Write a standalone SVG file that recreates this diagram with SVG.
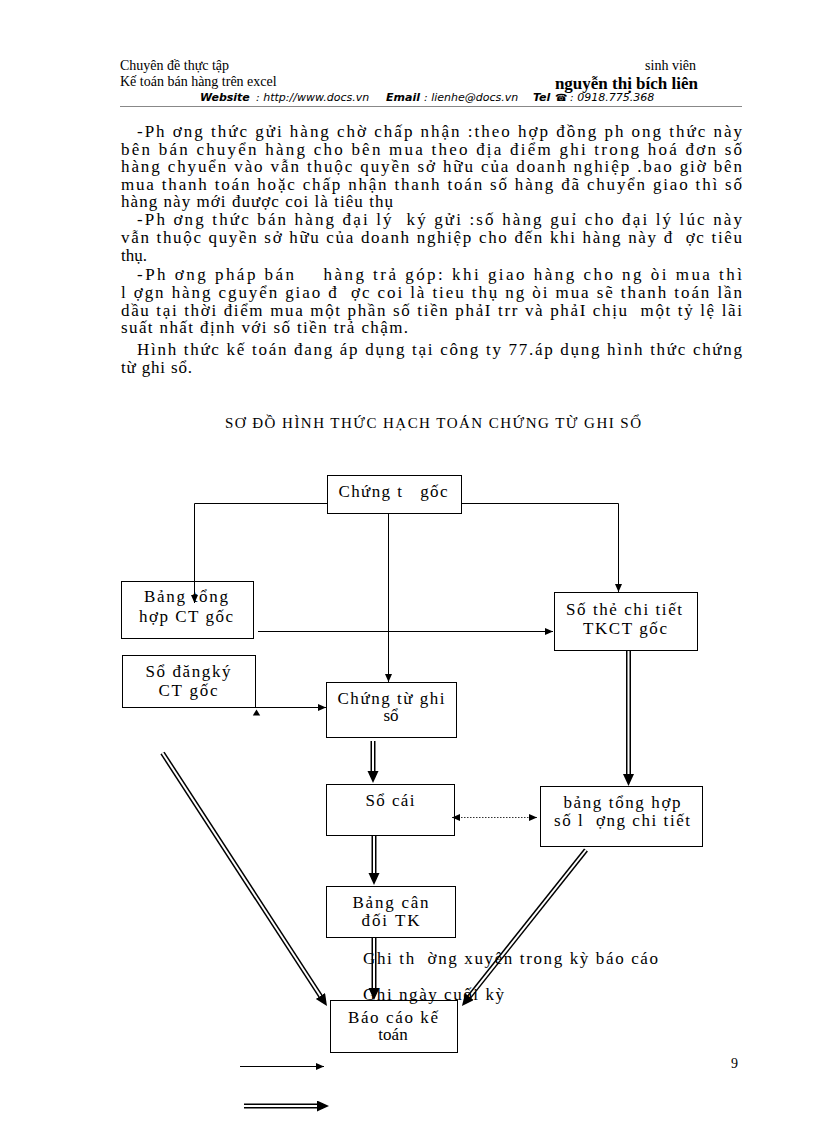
<svg xmlns="http://www.w3.org/2000/svg" width="816" height="1123" viewBox="0 0 816 1123">
<style>
text{font-family:"Liberation Serif","Times New Roman",serif;fill:#000;white-space:pre}
.hd{font-size:14px}
.web{font-family:"DejaVu Sans","Verdana",sans-serif;font-size:11px;font-style:italic}
.webb{font-family:"DejaVu Sans","Verdana",sans-serif;font-size:11px;font-style:italic;font-weight:bold}
.body{font-size:17px}
.ttl{font-size:15px}
.nt{font-size:17px;text-anchor:middle}
.lg{font-size:17px}
.box{fill:#fff;stroke:#000;stroke-width:1}
.thin{fill:none;stroke:#000;stroke-width:1}
.dot{fill:none;stroke:#333;stroke-width:1;stroke-dasharray:1.5 1.5}
.dbo{fill:none;stroke:#000;stroke-width:5}
.dbi{fill:none;stroke:#fff;stroke-width:2}
</style>
<defs>
<marker id="at" markerUnits="userSpaceOnUse" markerWidth="9" markerHeight="8" refX="8" refY="3.5" orient="auto-start-reverse" viewBox="0 0 9 8">
<path d="M0,0 L8,3.5 L0,7 z" fill="#000"/>
</marker>
<marker id="ab" markerUnits="userSpaceOnUse" markerWidth="13" markerHeight="12" refX="6" refY="5.5" orient="auto" viewBox="0 0 13 12">
<path d="M0,0 L12,5.5 L0,11 z" fill="#000"/>
</marker>
</defs>
<rect width="816" height="1123" fill="#fff"/>

<g id="header">
<text class="hd" x="120" y="70">Chuyên đề thực tập</text>
<text class="hd" x="696" y="70" text-anchor="end">sinh viên</text>
<text class="hd" x="120" y="86">Kế toán bán hàng trên excel</text>
<text x="698" y="89" text-anchor="end" style="font-size:17px;font-weight:bold">nguyễn thị bích liên</text>
<text class="webb" x="200" y="101">Website</text>
<text class="web" x="256" y="101">: http://www.docs.vn</text>
<text class="webb" x="386" y="101">Email</text>
<text class="web" x="424" y="101">: lienhe@docs.vn</text>
<text class="webb" x="533" y="101">Tel</text>
<text class="web" x="555" y="101" style="font-size:10px">☎</text>
<text class="web" x="570" y="101">: 0918.775.368</text>
<line x1="120" y1="106.5" x2="742" y2="106.5" stroke="#888" stroke-width="1.2"/>
</g>

<g id="body">
<text class="body" x="137" y="137" textLength="605" lengthAdjust="spacing">-Ph ơng thức gửi hàng chờ chấp nhận :theo hợp đồng ph ong thức này</text>
<text class="body" x="121" y="154.5" textLength="621" lengthAdjust="spacing">bên bán chuyển hàng cho bên mua theo địa điểm ghi trong hoá đơn số</text>
<text class="body" x="121" y="172" textLength="621" lengthAdjust="spacing">hàng chyuển vào vẫn thuộc quyền sở hữu của doanh nghiệp .bao giờ bên</text>
<text class="body" x="121" y="189.5" textLength="621" lengthAdjust="spacing">mua thanh toán hoặc chấp nhận thanh toán số hàng đã chuyển giao thì số</text>
<text class="body" x="121" y="207" textLength="272" lengthAdjust="spacing">hàng này mới đuược coi là tiêu thụ</text>
<text class="body" x="137" y="225" textLength="605" lengthAdjust="spacing">-Ph ơng thức bán hàng đại lý  ký gửi :số hàng guỉ cho đại lý lúc này</text>
<text class="body" x="121" y="242.5" textLength="621" lengthAdjust="spacing">vẫn thuộc quyền sở hữu của doanh nghiệp cho đến khi hàng này đ  ợc tiêu</text>
<text class="body" x="121" y="261">thụ.</text>
<text class="body" x="137" y="280" textLength="605" lengthAdjust="spacing">-Ph ơng pháp bán    hàng trả góp: khi giao hàng cho ng òi mua thì</text>
<text class="body" x="121" y="298" textLength="621" lengthAdjust="spacing">l ợgn hàng cguyển giao đ  ợc coi là tieu thụ ng òi mua sẽ thanh toán lần</text>
<text class="body" x="121" y="316" textLength="621" lengthAdjust="spacing">dầu tại thời điểm mua một phần số tiền phảI trr và phảI chịu  một tỷ lệ lãi</text>
<text class="body" x="121" y="333" textLength="287" lengthAdjust="spacing">suất nhất định với số tiền trả chậm.</text>
<text class="body" x="137" y="355" textLength="605" lengthAdjust="spacing">Hình thức kế toán đang áp dụng tại công ty 77.áp dụng hình thức chứng</text>
<text class="body" x="121" y="372.5" textLength="71" lengthAdjust="spacing">từ ghi sổ.</text>
</g>

<text class="ttl" x="225" y="428" textLength="416" lengthAdjust="spacing">SƠ ĐỒ HÌNH THỨC HẠCH TOÁN CHỨNG TỪ GHI SỔ</text>

<g id="nodes">
<g id="n-chungtugoc">
<rect class="box" x="327.5" y="475.5" width="134" height="38"/>
<text class="nt" x="393" y="497" textLength="109" lengthAdjust="spacing">Chứng t   gốc</text>
</g>
<g id="n-bangtonghop">
<rect class="box" x="121.5" y="581.5" width="132" height="57"/>
<text class="nt" x="186" y="602" textLength="84" lengthAdjust="spacing">Bảng tổng</text>
<text class="nt" x="186" y="621.5" textLength="94" lengthAdjust="spacing">hợp CT gốc</text>
</g>
<g id="n-sothe">
<rect class="box" x="554.5" y="592.5" width="143" height="58"/>
<text class="nt" x="624" y="615" textLength="116" lengthAdjust="spacing">Số thẻ chi tiết</text>
<text class="nt" x="625" y="633.5" textLength="84" lengthAdjust="spacing">TKCT gốc</text>
</g>
<g id="n-sodangky">
<rect class="box" x="122.5" y="655.5" width="133" height="52"/>
<text class="nt" x="188" y="677" textLength="85" lengthAdjust="spacing">Sổ đăngký</text>
<text class="nt" x="188" y="696" textLength="59" lengthAdjust="spacing">CT gốc</text>
</g>
<g id="n-chungtughiso">
<rect class="box" x="326.5" y="682.5" width="130" height="55"/>
<text class="nt" x="391" y="703.5" textLength="107" lengthAdjust="spacing">Chứng từ ghi</text>
<text class="nt" x="391" y="721">sổ</text>
</g>
<g id="n-socai">
<rect class="box" x="326.5" y="784.5" width="128" height="51"/>
<text class="nt" x="390" y="805.5" textLength="49" lengthAdjust="spacing">Sổ cái</text>
</g>
<g id="n-bangtonghopsl">
<rect class="box" x="540.5" y="786.5" width="162" height="60"/>
<text class="nt" x="622" y="807.5" textLength="117" lengthAdjust="spacing">bảng tổng hợp</text>
<text class="nt" x="622" y="826" textLength="136" lengthAdjust="spacing">số l  ợng chi tiết</text>
</g>
<g id="n-bangcandoi">
<rect class="box" x="326.5" y="886.5" width="129" height="51"/>
<text class="nt" x="390.5" y="907.5" textLength="76" lengthAdjust="spacing">Bảng cân</text>
<text class="nt" x="390.5" y="925.5" textLength="58" lengthAdjust="spacing">đối TK</text>
</g>
<g id="n-baocao">
<rect class="box" x="330.5" y="1000.5" width="127" height="52"/>
<text class="nt" x="393" y="1022.5" textLength="90" lengthAdjust="spacing">Báo cáo kế</text>
<text class="nt" x="393" y="1040">toán</text>
</g>
</g>

<g id="connectors">
<path class="thin" d="M327,503.5 H194.5 V603" marker-end="url(#at)"/>
<path class="thin" d="M461,503.5 H618.5 V592" marker-end="url(#at)"/>
<path class="thin" d="M388.5,513 V682" marker-end="url(#at)"/>
<path class="thin" d="M258,631.5 H553" marker-end="url(#at)"/>
<path class="thin" d="M256,707.5 H326" marker-end="url(#at)"/>
<polygon points="256.5,709.5 252.8,715.5 260.2,715.5" fill="#000"/>
<path class="dot" d="M452,817.5 H537" marker-start="url(#at)" marker-end="url(#at)"/>

<path class="dbo" d="M373,741 V777"/>
<path class="dbi" d="M373,741 V777" marker-end="url(#ab)"/>
<path class="dbo" d="M628.5,651 V780"/>
<path class="dbi" d="M628.5,651 V780" marker-end="url(#ab)"/>
<path class="dbo" d="M374,836 V879"/>
<path class="dbi" d="M374,836 V879" marker-end="url(#ab)"/>
<path class="dbo" d="M374,938 V994"/>
<path class="dbi" d="M374,938 V994" marker-end="url(#ab)"/>
<path class="dbo" d="M162.5,753 L323.7,1001"/>
<path class="dbi" d="M162.5,753 L323.7,1001" marker-end="url(#ab)"/>
<path class="dbo" d="M586,850 L465.7,1001.3"/>
<path class="dbi" d="M586,850 L465.7,1001.3" marker-end="url(#ab)"/>
</g>

<g id="legend">
<text class="lg" x="363" y="964" textLength="295" lengthAdjust="spacing">Ghi th  ờng xuyên trong kỳ báo cáo</text>
<text class="lg" x="363" y="1000" textLength="141" lengthAdjust="spacing">Ghi ngày cuối kỳ</text>
<path class="thin" d="M240,1066.5 H324" marker-end="url(#at)"/>
<path class="dbo" d="M244,1106 H323"/>
<path class="dbi" d="M244,1106 H323" marker-end="url(#ab)"/>
</g>

<text x="738" y="1068" style="font-size:14px" text-anchor="end">9</text>
</svg>
